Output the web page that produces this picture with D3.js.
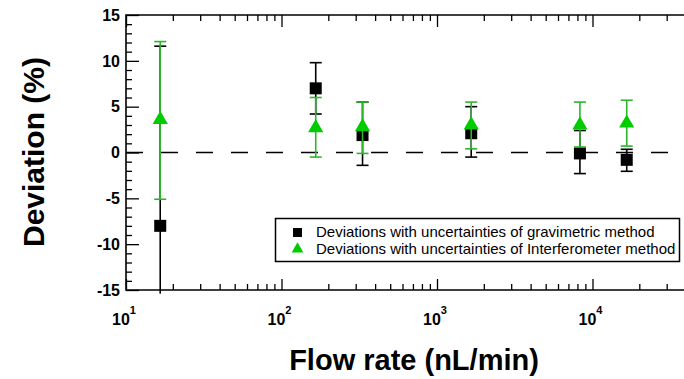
<!DOCTYPE html>
<html>
<head>
<meta charset="utf-8">
<script src="https://cdn.jsdelivr.net/npm/d3@7"></script>
<style>
    body { margin: 0; background: #fff; }
    text { font-family: "Liberation Sans", Arial, sans-serif; }
</style>
</head>
<body>
<div id="chart"></div>
<script>
// flow rates (nL/min)
var flowRates = [16.6, 166, 332, 1660, 8300, 16600];

// gravimetric deviations (%) and their error bar bounds
var gravValue = [-8.0, 7.0, 1.9, 2.1, -0.1, -0.8];
var gravUpper = [11.6, 9.8, 5.5, 5.0, 2.4, 0.35];
var gravLower = [-15.4, 4.2, -1.4, -0.5, -2.3, -2.05];

// interferometer deviations (%) and their error bar bounds
var intValue = [3.6, 2.7, 2.8, 3.0, 3.0, 3.2];
var intUpper = [12.1, 6.0, 5.5, 5.5, 5.5, 5.7];
var intLower = [-5.1, -0.5, -0.1, 0.4, 0.6, 0.7];

var yTicks = [-15, -10, -5, 0, 5, 10, 15];
var xMajor = [10, 100, 1000, 10000, 100000];
var xExponents = ["1", "2", "3", "4", "5"];
var legendLabels = [
    "Deviations with uncertainties of gravimetric method",
    "Deviations with uncertainties of Interferometer method"
];

var width = 684, height = 379;
var margin = { top: 15, left: 126, bottom: 89 };
var green = "#00cc00", greenLine = "#2cb52c";

var svg = d3.select("#chart").append("svg")
    .attr("width", width)
    .attr("height", height);

var xScale = d3.scaleLog()
    .domain([10, 100000])
    .range([margin.left, 748]);

var yScale = d3.scaleLinear()
    .domain([-15, 15])
    .range([height - margin.bottom, margin.top]);

var y0 = yScale(-15), y1 = yScale(15);

/*
MINOR / MAJOR TICKS
*/
var xMinor = [];
xMajor.slice(0, 4).forEach(function(m) {
    for (var k = 2; k <= 9; k++) xMinor.push(m * k);
});
var yMinor = d3.range(-15, 16, 1).filter(function(v) { return v % 5 !== 0; });

function noDomain(g) { g.select(".domain").remove(); }

svg.append("g").attr("transform", `translate(0,${y0})`)
    .call(d3.axisBottom(xScale).tickValues(xMinor).tickSize(-6).tickFormat(""))
    .call(noDomain);
svg.append("g").attr("transform", `translate(0,${y0})`)
    .call(d3.axisBottom(xScale).tickValues(xMajor).tickSize(-11).tickFormat(""))
    .call(noDomain);
svg.append("g").attr("transform", `translate(0,${y1})`)
    .call(d3.axisTop(xScale).tickValues(xMinor).tickSize(-6).tickFormat(""))
    .call(noDomain);
svg.append("g").attr("transform", `translate(0,${y1})`)
    .call(d3.axisTop(xScale).tickValues(xMajor).tickSize(-12).tickFormat(""))
    .call(noDomain);

svg.append("g").attr("transform", `translate(${margin.left},0)`)
    .call(d3.axisLeft(yScale).tickValues(yMinor).tickSize(-6).tickFormat(""))
    .call(noDomain);
svg.append("g").attr("transform", `translate(${margin.left},0)`)
    .call(d3.axisLeft(yScale).tickValues(yTicks).tickSize(-13).tickFormat(""))
    .call(noDomain);

svg.selectAll(".tick line").attr("stroke", "#000").attr("stroke-width", 1.3);

// frame
svg.append("path")
    .attr("d", `M${width},${y1}H${margin.left}V${y0}H${width}`)
    .attr("fill", "none")
    .attr("stroke", "#000")
    .attr("stroke-width", 1.6);

/*
TICK LABELS
*/
svg.selectAll(".ylab")
    .data(yTicks)
    .enter()
    .append("text")
    .attr("class", "ylab")
    .attr("x", margin.left - 6)
    .attr("y", function(d) { return yScale(d); })
    .attr("dy", "0.36em")
    .attr("text-anchor", "end")
    .attr("font-size", 16)
    .attr("font-weight", "bold")
    .text(function(d) { return d; });

var xlab = svg.selectAll(".xlab")
    .data(xMajor.slice(0, 4))
    .enter()
    .append("text")
    .attr("class", "xlab")
    .attr("x", function(d) { return xScale(d) - 2; })
    .attr("y", 325)
    .attr("text-anchor", "middle")
    .attr("font-size", 16)
    .attr("font-weight", "bold");
xlab.append("tspan").text("10");
xlab.append("tspan")
    .attr("dy", -11)
    .attr("font-size", 11)
    .text(function(d, i) { return xExponents[i]; });

/*
AXIS TITLES
*/
svg.append("text")
    .attr("x", 414)
    .attr("y", 370)
    .attr("text-anchor", "middle")
    .attr("font-size", 29)
    .attr("font-weight", "bold")
    .text("Flow rate (nL/min)");

svg.append("text")
    .attr("transform", "rotate(-90)")
    .attr("x", -152)
    .attr("y", 44)
    .attr("text-anchor", "middle")
    .attr("font-size", 30)
    .attr("font-weight", "bold")
    .text("Deviation (%)");

/*
ZERO LINE
*/
svg.append("line")
    .attr("x1", margin.left)
    .attr("x2", width)
    .attr("y1", yScale(0))
    .attr("y2", yScale(0))
    .attr("stroke", "#000")
    .attr("stroke-width", 1.6)
    .attr("stroke-dasharray", "17,18");

/*
ERROR BARS + MARKERS
*/
function drawBars(values, lower, upper, color) {
    var g = svg.append("g");
    flowRates.forEach(function(f, i) {
        var x = xScale(f);
        g.append("line")
            .attr("x1", x).attr("x2", x)
            .attr("y1", yScale(lower[i])).attr("y2", yScale(upper[i]))
            .attr("stroke", color).attr("stroke-width", 1.6);
        [lower[i], upper[i]].forEach(function(v) {
            if (v < -15 || v > 15) return;
            g.append("line")
                .attr("x1", x - 6).attr("x2", x + 6)
                .attr("y1", yScale(v)).attr("y2", yScale(v))
                .attr("stroke", color).attr("stroke-width", 1.6);
        });
    });
    return g;
}

var gravBars = drawBars(gravValue, gravLower, gravUpper, "#000");
svg.selectAll(".sq")
    .data(gravValue)
    .enter()
    .append("rect")
    .attr("class", "sq")
    .attr("x", function(d, i) { return xScale(flowRates[i]) - 6; })
    .attr("y", function(d) { return yScale(d) - 6; })
    .attr("width", 12)
    .attr("height", 12)
    .attr("fill", "#000");

var intBars = drawBars(intValue, intLower, intUpper, greenLine);
var tri = d3.symbol().type(d3.symbolTriangle).size(100);
svg.selectAll(".tri")
    .data(intValue)
    .enter()
    .append("path")
    .attr("class", "tri")
    .attr("d", tri)
    .attr("transform", function(d, i) { return `translate(${xScale(flowRates[i])},${yScale(d)})`; })
    .attr("fill", green);

/*
LEGEND
*/
svg.append("rect")
    .attr("x", 275.5)
    .attr("y", 218.5)
    .attr("width", 404)
    .attr("height", 43)
    .attr("fill", "#fff")
    .attr("stroke", "#000")
    .attr("stroke-width", 1.5);

svg.append("rect")
    .attr("x", 293)
    .attr("y", 228)
    .attr("width", 9)
    .attr("height", 9)
    .attr("fill", "#000");

svg.append("path")
    .attr("d", d3.symbol().type(d3.symbolTriangle).size(60))
    .attr("transform", "translate(297.5,249)")
    .attr("fill", green);

svg.selectAll(".leg")
    .data(legendLabels)
    .enter()
    .append("text")
    .attr("class", "leg")
    .attr("x", 316)
    .attr("y", function(d, i) { return 232 + i * 17; })
    .attr("dy", "0.35em")
    .attr("font-size", 15)
    .text(function(d) { return d; });
</script>
</body>
</html>
